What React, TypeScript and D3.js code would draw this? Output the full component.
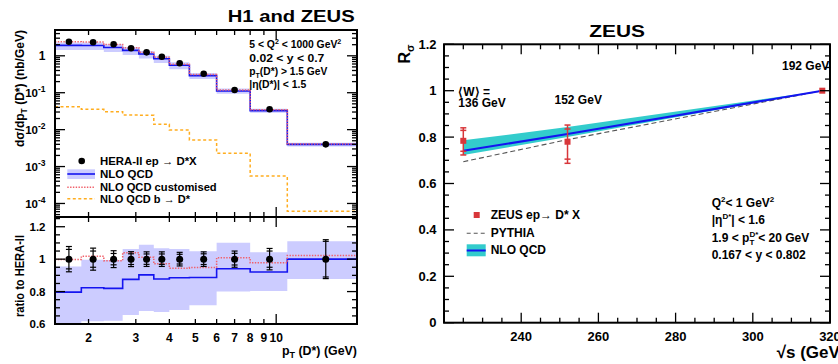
import React from 'react';
import * as d3 from 'd3';

// ---------- H1 + ZEUS combined D* cross section vs pT(D*) ----------
const ptEdges = [1.5, 1.88, 2.28, 2.68, 3.08, 3.5, 4.0, 4.75, 6.0, 8.0, 11.0, 20.0];
const ptMean = [1.69, 2.08, 2.48, 2.88, 3.29, 3.75, 4.37, 5.37, 7.0, 9.45, 15.3];
const heraXsec = [2.41, 2.32, 2.05, 1.6, 1.24, 0.946, 0.626, 0.327, 0.118, 0.0355, 0.004];
// relative uncertainties: total and uncorrelated part
const heraTotErr = [0.078, 0.068, 0.052, 0.046, 0.045, 0.045, 0.042, 0.045, 0.05, 0.066, 0.12];
const heraUncErr = [0.06, 0.05, 0.035, 0.033, 0.032, 0.032, 0.03, 0.033, 0.036, 0.05, 0.11];
const nloXsec = [1.92, 1.91, 1.68, 1.4, 1.12, 0.83, 0.554, 0.29, 0.111, 0.0327, 0.004];
const nloXsecUp = [2.3, 2.31, 2.04, 1.7, 1.35, 1.01, 0.665, 0.343, 0.13, 0.037, 0.00444];
const nloXsecDown = [1.44, 1.43, 1.27, 1.05, 0.843, 0.637, 0.43, 0.234, 0.0944, 0.0285, 0.00351];
const nloCustomXsec = [2.405, 2.36, 2.03, 1.664, 1.255, 0.919, 0.591, 0.31, 0.119, 0.0347, 0.00409];
const nloBeautyXsec = [0.0418, 0.0355, 0.0306, 0.0249, 0.0245, 0.0139, 0.00976, 0.00523, 0.00228, 0.000553, 0.000062];
const ptTickValues = [2, 3, 4, 5, 6, 7, 8, 9, 10];
const ratioTickValues = [0.6, 0.8, 1, 1.2];
const xsecDecades = [-4, -3, -2, -1, 0];

// ---------- ZEUS R_sigma vs sqrt(s) ----------
const sqrtS = [225, 252, 318];
const wLabels = ['136 GeV', '152 GeV', '192 GeV'];
const rSigma = [0.784, 0.78, 1.0];
const rErrUp = [0.056, 0.072, 0];
const rErrDown = [0.061, 0.093, 0];
const rInnerUp = [0.045, 0.055, 0];
const rInnerDown = [0.045, 0.075, 0];
const nloR = [0.741, 0.813, 1.0];
const nloRUp = [0.786, 0.843, 1.0];
const nloRDown = [0.723, 0.8, 1.0];
const pythiaR = [0.694, 0.789, 1.0];
const sTickValues = [240, 260, 280, 300, 320];
const rTickValues = [0, 0.2, 0.4, 0.6, 0.8, 1, 1.2];

const FONT = '"Liberation Sans", Arial, Helvetica, sans-serif';
const BAND = '#ccccff';
const BLUE = '#1414f0';
const RED_DOT = '#f0606a';
const ORANGE = '#ffad1f';
const CYAN = '#33cccc';
const ZRED = '#d8363a';

function Txt({ x, y, size = 12, weight = 700, anchor = 'start', width, rotate = 0, children }: any) {
  return (
    <text
      x={x}
      y={y}
      fontSize={size}
      fontWeight={weight}
      textAnchor={anchor}
      fontFamily={FONT}
      fill="#000"
      textLength={width}
      lengthAdjust={width ? 'spacingAndGlyphs' : undefined}
      transform={rotate ? `rotate(${rotate} ${x} ${y})` : undefined}
    >
      {children}
    </text>
  );
}

// ---- layout ----
const L = { x0: 55, x1: 357, y0: 30, ym: 217, y1: 324 };
const R = { x0: 444, x1: 830, y0: 44.3, y1: 322.7 };

const xPt = d3.scaleLog().domain([1.5, 20]).range([L.x0, L.x1]);
const yXs = d3.scaleLog().domain([4.3e-5, 5]).range([L.ym, L.y0]);
const yRat = d3.scaleLinear().domain([0.6, 1.26]).range([L.y1, L.ym]);
const xS = d3.scaleLinear().domain([220, 320]).range([R.x0, R.x1]);
const yR = d3.scaleLinear().domain([0, 1.2]).range([R.y1, R.y0]);

type P = [number, number];
const stepPts = (vals: number[]): P[] => vals.flatMap((v, i) => [[ptEdges[i], v], [ptEdges[i + 1], v]] as P[]);
const stepLine = (ys: any) => d3.line<P>().x((d) => xPt(d[0])).y((d) => ys(d[1]));
const stepBand = (lo: number[], hi: number[], ys: any) => {
  const pts = lo.flatMap((v, i) => [
    { x: ptEdges[i], lo: v, hi: hi[i] },
    { x: ptEdges[i + 1], lo: v, hi: hi[i] },
  ]);
  return d3
    .area<any>()
    .x((d) => xPt(d.x))
    .y0((d) => ys(d.lo))
    .y1((d) => ys(d.hi))(pts) as string;
};

function LeftPanel() {
  const ratioNlo = nloXsec.map((v, i) => v / heraXsec[i]);
  const ratioUp = nloXsecUp.map((v, i) => v / heraXsec[i]);
  const ratioDown = nloXsecDown.map((v, i) => v / heraXsec[i]);
  const ratioCustom = nloCustomXsec.map((v, i) => v / heraXsec[i]);

  // log-axis tick positions for the cross-section panel
  const yMinor: number[] = [];
  for (let e = -5; e <= 0; e++) for (let k = 2; k <= 9; k++) {
    const v = k * Math.pow(10, e);
    if (v > 4.3e-5 && v < 5) yMinor.push(v);
  }
  const ratioMinor = d3.range(0.6, 1.2601, 0.05).map((v) => +v.toFixed(2));

  const tick = (key: string, x1: number, y1: number, x2: number, y2: number) => (
    <line key={key} x1={x1} y1={y1} x2={x2} y2={y2} stroke="#000" strokeWidth={1.3} />
  );

  const ticks: any[] = [];
  ptTickValues.forEach((v) => {
    const x = xPt(v);
    const len = v === 10 ? 10 : 5;
    ticks.push(tick(`tx${v}a`, x, L.y0, x, L.y0 + len));
    ticks.push(tick(`tx${v}b`, x, L.ym, x, L.ym - len));
    ticks.push(tick(`tx${v}c`, x, L.ym, x, L.ym + len));
    ticks.push(tick(`tx${v}d`, x, L.y1, x, L.y1 - len));
  });
  xsecDecades.forEach((e) => {
    const y = yXs(Math.pow(10, e));
    ticks.push(tick(`yd${e}a`, L.x0, y, L.x0 + 10, y));
    ticks.push(tick(`yd${e}b`, L.x1, y, L.x1 - 10, y));
  });
  yMinor.forEach((v, i) => {
    const y = yXs(v);
    ticks.push(tick(`ym${i}a`, L.x0, y, L.x0 + 5, y));
    ticks.push(tick(`ym${i}b`, L.x1, y, L.x1 - 5, y));
  });
  ratioMinor.forEach((v, i) => {
    const y = yRat(v);
    const major = ratioTickValues.some((t) => Math.abs(t - v) < 1e-6);
    const len = major ? 10 : 5;
    ticks.push(tick(`rm${i}a`, L.x0, y, L.x0 + len, y));
    ticks.push(tick(`rm${i}b`, L.x1, y, L.x1 - len, y));
  });

  return (
    <g>
      <defs>
        <clipPath id="clipTop">
          <rect x={L.x0} y={L.y0} width={L.x1 - L.x0} height={L.ym - L.y0} />
        </clipPath>
        <clipPath id="clipRatio">
          <rect x={L.x0} y={L.ym} width={L.x1 - L.x0} height={L.y1 - L.ym} />
        </clipPath>
      </defs>

      {/* cross-section panel */}
      <g clipPath="url(#clipTop)">
        <path d={stepBand(nloXsecDown, nloXsecUp, yXs)} fill={BAND} />
        <path d={stepLine(yXs)(stepPts(nloBeautyXsec)) as string} fill="none" stroke={ORANGE} strokeWidth={1.5} strokeDasharray="3 2.5" />
        <path d={stepLine(yXs)(stepPts(nloXsec)) as string} fill="none" stroke={BLUE} strokeWidth={1.6} />
        <path d={stepLine(yXs)(stepPts(nloCustomXsec)) as string} fill="none" stroke={RED_DOT} strokeWidth={1.5} strokeDasharray="1.4 1.4" />
        {heraXsec.map((v, i) => {
          const x = xPt(ptMean[i]);
          return (
            <g key={i}>
              <line x1={x} x2={x} y1={yXs(v * (1 + heraTotErr[i]))} y2={yXs(v * (1 - heraTotErr[i]))} stroke="#000" strokeWidth={1.2} />
              <circle cx={x} cy={yXs(v)} r={3.3} fill="#000" />
            </g>
          );
        })}
      </g>

      {/* ratio panel */}
      <g clipPath="url(#clipRatio)">
        <path d={stepBand(ratioDown, ratioUp, yRat)} fill={BAND} />
        <path d={stepLine(yRat)(stepPts(ratioNlo)) as string} fill="none" stroke={BLUE} strokeWidth={1.6} />
        <path d={stepLine(yRat)(stepPts(ratioCustom)) as string} fill="none" stroke={RED_DOT} strokeWidth={1.5} strokeDasharray="1.4 1.4" />
        {heraXsec.map((_, i) => {
          const x = xPt(ptMean[i]);
          const t = heraTotErr[i];
          const u = heraUncErr[i];
          return (
            <g key={i} stroke="#000" strokeWidth={1.2}>
              <line x1={x} x2={x} y1={yRat(1 + t)} y2={yRat(1 - t)} />
              {[1 + t, 1 - t, 1 + u, 1 - u].map((r, k) => (
                <line key={k} x1={x - 3} x2={x + 3} y1={yRat(r)} y2={yRat(r)} />
              ))}
              <circle cx={x} cy={yRat(1)} r={3.5} fill="#000" stroke="none" />
            </g>
          );
        })}
      </g>

      {ticks}
      <rect x={L.x0} y={L.y0} width={L.x1 - L.x0} height={L.ym - L.y0} fill="none" stroke="#000" strokeWidth={2} />
      <rect x={L.x0} y={L.ym} width={L.x1 - L.x0} height={L.y1 - L.ym} fill="none" stroke="#000" strokeWidth={2} />

      {/* tick labels */}
      {ptTickValues.map((v) => (
        <Txt key={v} x={xPt(v)} y={341.5} size={12} anchor="middle">{v}</Txt>
      ))}
      {xsecDecades.map((e) => {
        const y = yXs(Math.pow(10, e)) + 4.5;
        return e === 0 ? (
          <Txt key={e} x={45.5} y={y} size={12} anchor="end">1</Txt>
        ) : (
          <Txt key={e} x={45.5} y={y} size={11.5} anchor="end">
            10<tspan dy={-5} fontSize={8.5}>{e}</tspan>
          </Txt>
        );
      })}
      {ratioTickValues.map((v) => (
        <Txt key={v} x={45.5} y={yRat(v) + 4.3} size={11.5} anchor="end">{String(v)}</Txt>
      ))}

      {/* axis titles */}
      <Txt x={24} y={147} size={12} rotate={-90} width={117}>
        dσ/dp<tspan dy={3} fontSize={8.5}>T</tspan><tspan dy={-3}> (D*) (nb/GeV)</tspan>
      </Txt>
      <Txt x={24} y={317} size={12} rotate={-90} width={82}>ratio to HERA-II</Txt>
      <Txt x={357} y={355} size={12.5} anchor="end" width={75}>
        p<tspan dy={3} fontSize={9}>T</tspan><tspan dy={-3}> (D*) (GeV)</tspan>
      </Txt>

      {/* title and selection */}
      <Txt x={227.7} y={22} size={17} width={127}>H1 and ZEUS</Txt>
      <Txt x={249.3} y={48.3} size={11} width={92}>
        5 &lt; Q<tspan dy={-4} fontSize={7.5}>2</tspan><tspan dy={4}> &lt; 1000 GeV</tspan><tspan dy={-4} fontSize={7.5}>2</tspan>
      </Txt>
      <Txt x={249.3} y={61.5} size={11} width={75}>0.02 &lt; y &lt; 0.7</Txt>
      <Txt x={249.3} y={75} size={11} width={78}>
        p<tspan dy={3} fontSize={7.5}>T</tspan><tspan dy={-3}>(D*) &gt; 1.5 GeV</tspan>
      </Txt>
      <Txt x={249.3} y={88.3} size={11} width={57}>|η(D*)| &lt; 1.5</Txt>

      {/* legend */}
      <circle cx={81.7} cy={161} r={3.3} fill="#000" />
      <Txt x={100} y={165} size={11.5} width={96.7}>HERA-II ep → D*X</Txt>
      <rect x={67.3} y={169.3} width={27.7} height={9.7} fill={BAND} />
      <line x1={67.3} x2={95} y1={174} y2={174} stroke={BLUE} strokeWidth={1.6} />
      <Txt x={100} y={177.5} size={11.5} width={53}>NLO QCD</Txt>
      <line x1={67.3} x2={95} y1={187.3} y2={187.3} stroke={RED_DOT} strokeWidth={1.5} strokeDasharray="1.4 1.4" />
      <Txt x={100} y={190.7} size={11.5} width={116.7}>NLO QCD customised</Txt>
      <line x1={67.3} x2={95} y1={198.7} y2={198.7} stroke={ORANGE} strokeWidth={1.5} strokeDasharray="3 2.5" />
      <Txt x={100} y={203.3} size={11.5} width={90}>NLO QCD b → D*</Txt>
    </g>
  );
}

function RightPanel() {
  const band = d3
    .area<number>()
    .x((d) => xS(d))
    .y0((_, i) => yR(nloRDown[i]))
    .y1((_, i) => yR(nloRUp[i]))(sqrtS) as string;
  const nloPath = d3.line<number>().x((d) => xS(d)).y((_, i) => yR(nloR[i]))(sqrtS) as string;
  const pythiaPath = d3.line<number>().x((d) => xS(d)).y((_, i) => yR(pythiaR[i]))(sqrtS) as string;

  const ticks: any[] = [];
  d3.range(220, 320.001, 5).forEach((v) => {
    const x = xS(v);
    const len = v % 20 === 0 ? 10 : 5;
    ticks.push(<line key={`x${v}a`} x1={x} x2={x} y1={R.y1} y2={R.y1 - len} stroke="#000" strokeWidth={1.3} />);
    ticks.push(<line key={`x${v}b`} x1={x} x2={x} y1={R.y0} y2={R.y0 + len} stroke="#000" strokeWidth={1.3} />);
  });
  d3.range(0, 24.5, 1).forEach((k) => {
    const y = yR(k * 0.05);
    const len = k % 4 === 0 ? 10 : 5;
    ticks.push(<line key={`y${k}a`} x1={R.x0} x2={R.x0 + len} y1={y} y2={y} stroke="#000" strokeWidth={1.3} />);
    ticks.push(<line key={`y${k}b`} x1={R.x1} x2={R.x1 - len} y1={y} y2={y} stroke="#000" strokeWidth={1.3} />);
  });

  const wPos = [
    { dx: -5, y: 107.3 },
    { dx: -13, y: 104.3 },
    { dx: -40.3, y: 70 },
  ];

  return (
    <g>
      <path d={band} fill={CYAN} />
      <path d={pythiaPath} fill="none" stroke="#555" strokeWidth={1.1} strokeDasharray="5 3" />
      <path d={nloPath} fill="none" stroke={BLUE} strokeWidth={2} />
      {sqrtS.map((s, i) => {
        const x = xS(s);
        const v = rSigma[i];
        return (
          <g key={s} stroke={ZRED} strokeWidth={1.5}>
            {rErrUp[i] + rErrDown[i] > 0 && (
              <>
                <line x1={x} x2={x} y1={yR(v + rErrUp[i])} y2={yR(v - rErrDown[i])} />
                {[v + rErrUp[i], v - rErrDown[i], v + rInnerUp[i], v - rInnerDown[i]].map((r, k) => (
                  <line key={k} x1={x - 3} x2={x + 3} y1={yR(r)} y2={yR(r)} />
                ))}
              </>
            )}
            <rect x={x - 3} y={yR(v) - 3} width={6} height={6} fill={ZRED} stroke="none" />
          </g>
        );
      })}

      {ticks}
      <rect x={R.x0} y={R.y0} width={R.x1 - R.x0} height={R.y1 - R.y0} fill="none" stroke="#000" strokeWidth={2} />

      {sTickValues.map((v) => (
        <Txt key={v} x={xS(v)} y={341.3} size={13} anchor="middle">{v}</Txt>
      ))}
      {rTickValues.map((v) => (
        <Txt key={v} x={436.5} y={yR(v) + 4.5} size={13} anchor="end">{String(v)}</Txt>
      ))}

      <Txt x={410} y={63.5} size={16} rotate={-90}>
        R<tspan dy={4} fontSize={11}>σ</tspan>
      </Txt>
      <Txt x={776.7} y={357.7} size={17}>√s (GeV)</Txt>
      <Txt x={589.3} y={36.7} size={17} width={55.7}>ZEUS</Txt>

      <Txt x={458.3} y={96} size={12}>⟨W⟩ =</Txt>
      {wLabels.map((t, i) => (
        <Txt key={t} x={xS(sqrtS[i]) + wPos[i].dx} y={wPos[i].y} size={12}>{t}</Txt>
      ))}

      {/* legend */}
      <rect x={473.7} y={212} width={6} height={6} fill={ZRED} />
      <Txt x={490.7} y={219} size={12}>ZEUS ep→ D* X</Txt>
      <line x1={466.7} x2={485.7} y1={233.3} y2={233.3} stroke="#555" strokeWidth={1.1} strokeDasharray="4 3" />
      <Txt x={490.7} y={237.3} size={12}>PYTHIA</Txt>
      <rect x={466.7} y={244.3} width={19} height={12} fill={CYAN} />
      <line x1={466.7} x2={485.7} y1={250.5} y2={250.5} stroke={BLUE} strokeWidth={2} />
      <Txt x={490.7} y={254.2} size={12}>NLO QCD</Txt>

      {/* selection */}
      <Txt x={711.7} y={206.7} size={12}>
        Q<tspan dy={-5} fontSize={8}>2</tspan><tspan dy={5}>&lt; 1 GeV</tspan><tspan dy={-5} fontSize={8}>2</tspan>
      </Txt>
      <Txt x={711.7} y={224} size={12}>
        |η<tspan dy={-5} fontSize={8}>D*</tspan><tspan dy={5}>| &lt; 1.6</tspan>
      </Txt>
      <Txt x={711.7} y={241.7} size={12}>
        1.9 &lt; p<tspan dy={-5} fontSize={8}>D*</tspan><tspan dx={-8.9} dy={8} fontSize={8}>T</tspan>
        <tspan dx={4} dy={-3}>&lt; 20 GeV</tspan>
      </Txt>
      <Txt x={711.7} y={259} size={12}>0.167 &lt; y &lt; 0.802</Txt>
    </g>
  );
}

export default function App() {
  return (
    <svg
      width={838}
      height={364}
      viewBox="0 0 838 364"
      style={{ position: 'absolute', left: 0, top: 0, background: '#fff' }}
    >
      <rect width={838} height={364} fill="#fff" />
      <LeftPanel />
      <RightPanel />
    </svg>
  );
}
